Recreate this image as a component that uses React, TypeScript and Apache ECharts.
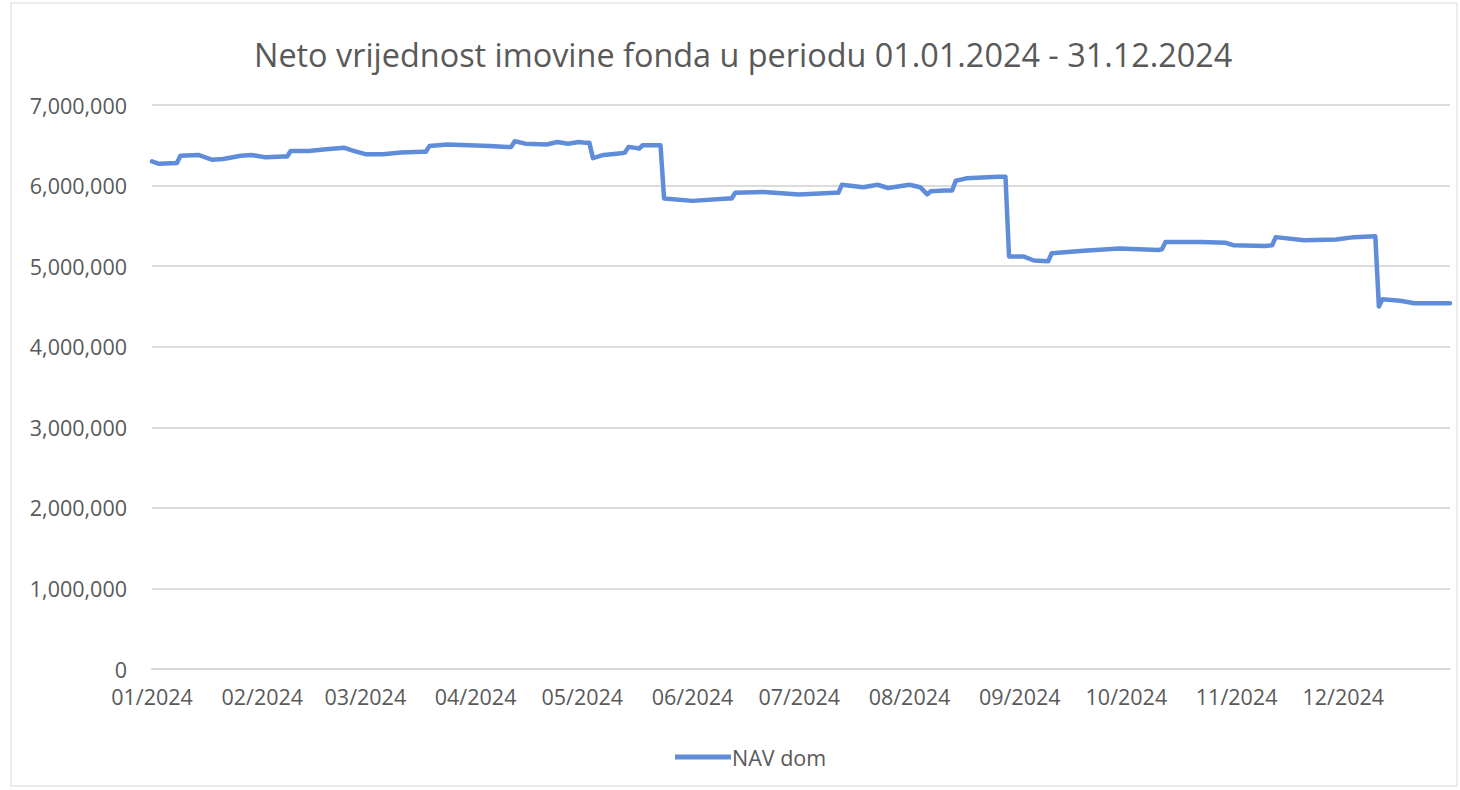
import React, { useEffect, useRef } from "react";
import * as echarts from "echarts";

const TITLE = "Neto vrijednost imovine fonda u periodu 01.01.2024 - 31.12.2024";
const SERIES_NAME = "NAV dom";

const dates: string[] = [
  "2024-01-01", "2024-01-03", "2024-01-08", "2024-01-09", "2024-01-14", "2024-01-18", "2024-01-21",
  "2024-01-26", "2024-01-29", "2024-02-02", "2024-02-07", "2024-02-08", "2024-02-09", "2024-02-14",
  "2024-02-19", "2024-02-24", "2024-02-26", "2024-03-01", "2024-03-06", "2024-03-11", "2024-03-17",
  "2024-03-18", "2024-03-19", "2024-03-24", "2024-03-30", "2024-04-05", "2024-04-10", "2024-04-11",
  "2024-04-12", "2024-04-15", "2024-04-21", "2024-04-24", "2024-04-27", "2024-04-30", "2024-05-02",
  "2024-05-03", "2024-05-04", "2024-05-07", "2024-05-12", "2024-05-13", "2024-05-14", "2024-05-17",
  "2024-05-18", "2024-05-23", "2024-05-24", "2024-06-01", "2024-06-11", "2024-06-12", "2024-06-13",
  "2024-06-21", "2024-07-01", "2024-07-11", "2024-07-12", "2024-07-13", "2024-07-19", "2024-07-23",
  "2024-07-26", "2024-08-01", "2024-08-04", "2024-08-06", "2024-08-07", "2024-08-11", "2024-08-13",
  "2024-08-14", "2024-08-17", "2024-08-26", "2024-08-28", "2024-08-29", "2024-09-02", "2024-09-05",
  "2024-09-09", "2024-09-10", "2024-09-19", "2024-09-29", "2024-10-10", "2024-10-11", "2024-10-12",
  "2024-10-22", "2024-10-29", "2024-10-31", "2024-11-09", "2024-11-11", "2024-11-12", "2024-11-20",
  "2024-11-29", "2024-12-04", "2024-12-10", "2024-12-11", "2024-12-12", "2024-12-17", "2024-12-21",
  "2024-12-31",
];

const navValues: number[] = [
  6300000, 6270000, 6280000, 6370000, 6380000, 6320000, 6330000,
  6370000, 6380000, 6350000, 6360000, 6360000, 6430000, 6430000,
  6450000, 6470000, 6440000, 6390000, 6390000, 6410000, 6420000,
  6420000, 6490000, 6510000, 6500000, 6490000, 6480000, 6480000,
  6550000, 6520000, 6510000, 6540000, 6520000, 6540000, 6530000,
  6530000, 6340000, 6380000, 6400000, 6410000, 6480000, 6460000,
  6500000, 6500000, 5840000, 5810000, 5840000, 5840000, 5910000,
  5920000, 5890000, 5910000, 5910000, 6010000, 5980000, 6010000,
  5970000, 6010000, 5980000, 5890000, 5930000, 5940000, 5940000,
  6060000, 6090000, 6110000, 6110000, 5120000, 5120000, 5070000,
  5060000, 5160000, 5190000, 5220000, 5200000, 5210000, 5300000,
  5300000, 5290000, 5260000, 5250000, 5260000, 5360000, 5320000,
  5330000, 5360000, 5370000, 4500000, 4590000, 4570000, 4540000,
  4540000,
];

const monthTicks: string[] = [
  "2024-01-01", "2024-02-01", "2024-03-01", "2024-04-01", "2024-05-01", "2024-06-01",
  "2024-07-01", "2024-08-01", "2024-09-01", "2024-10-01", "2024-11-01", "2024-12-01",
];

const parseLocal = (s: string) => {
  const [y, m, d] = s.split("-").map(Number);
  return new Date(y, m - 1, d).getTime();
};

export default function App() {
  const ref = useRef<HTMLDivElement>(null);

  useEffect(() => {
    if (!ref.current) return;
    const chart = echarts.init(ref.current, undefined, { renderer: "svg" });
    const font = "'Open Sans', 'Noto Sans', sans-serif";
    const tickValues = monthTicks.map(parseLocal);
    chart.setOption({
      animation: false,
      backgroundColor: "#ffffff",
      textStyle: { fontFamily: font },
      title: {
        text: TITLE,
        left: 249,
        top: 33,
        textStyle: { fontFamily: font, fontSize: 32.4, fontWeight: "normal", color: "#595959" },
      },
      graphic: [
        {
          type: "rect",
          shape: { x: 11, y: 3, width: 1446, height: 783 },
          style: { fill: "none", stroke: "#e6e6e6", lineWidth: 1.5 },
          silent: true,
        },
      ],
      legend: {
        data: [SERIES_NAME],
        left: 670,
        top: 741,
        icon: "rect",
        itemWidth: 56,
        itemHeight: 5,
        textStyle: { fontFamily: font, fontSize: 21.5, color: "#595959", padding: [0, 0, 0, -4] },
      },
      grid: { left: 152, right: 10, top: 105, bottom: 121, containLabel: false, outerBoundsMode: "none" },
      xAxis: {
        type: "value",
        min: parseLocal("2024-01-01"),
        max: parseLocal("2024-12-31"),
        axisLine: { show: true, lineStyle: { color: "#d9d9d9", width: 2 } },
        axisTick: { show: false },
        splitLine: { show: false },
        axisLabel: {
          customValues: tickValues,
          hideOverlap: false,
          margin: 16,
          fontSize: 21.5,
          fontFamily: font,
          color: "#595959",
          formatter: (v: number) => {
            const d = new Date(v);
            const mm = String(d.getMonth() + 1).padStart(2, "0");
            return `${mm}/${d.getFullYear()}`;
          },
        },
      },
      yAxis: {
        type: "value",
        min: 0,
        max: 7000000,
        interval: 1000000,
        axisLine: { show: false },
        axisTick: { show: false },
        splitLine: { show: true, lineStyle: { color: "#dcdcdc", width: 2 } },
        axisLabel: {
          margin: 25,
          fontSize: 21.5,
          fontFamily: font,
          color: "#595959",
          formatter: (v: number) => v.toLocaleString("en-US"),
        },
      },
      series: [
        {
          name: SERIES_NAME,
          type: "line",
          symbol: "none",
          data: dates.map((d, i) => [parseLocal(d), navValues[i]]),
          lineStyle: { color: "#5F8DDA", width: 4.5, join: "round", cap: "round" },
          itemStyle: { color: "#5F8DDA" },
        },
      ],
    });
    return () => chart.dispose();
  }, []);

  return (
    <div
      ref={ref}
      style={{ position: "fixed", left: 0, top: 0, width: 1460, height: 790, background: "#fff" }}
    />
  );
}
